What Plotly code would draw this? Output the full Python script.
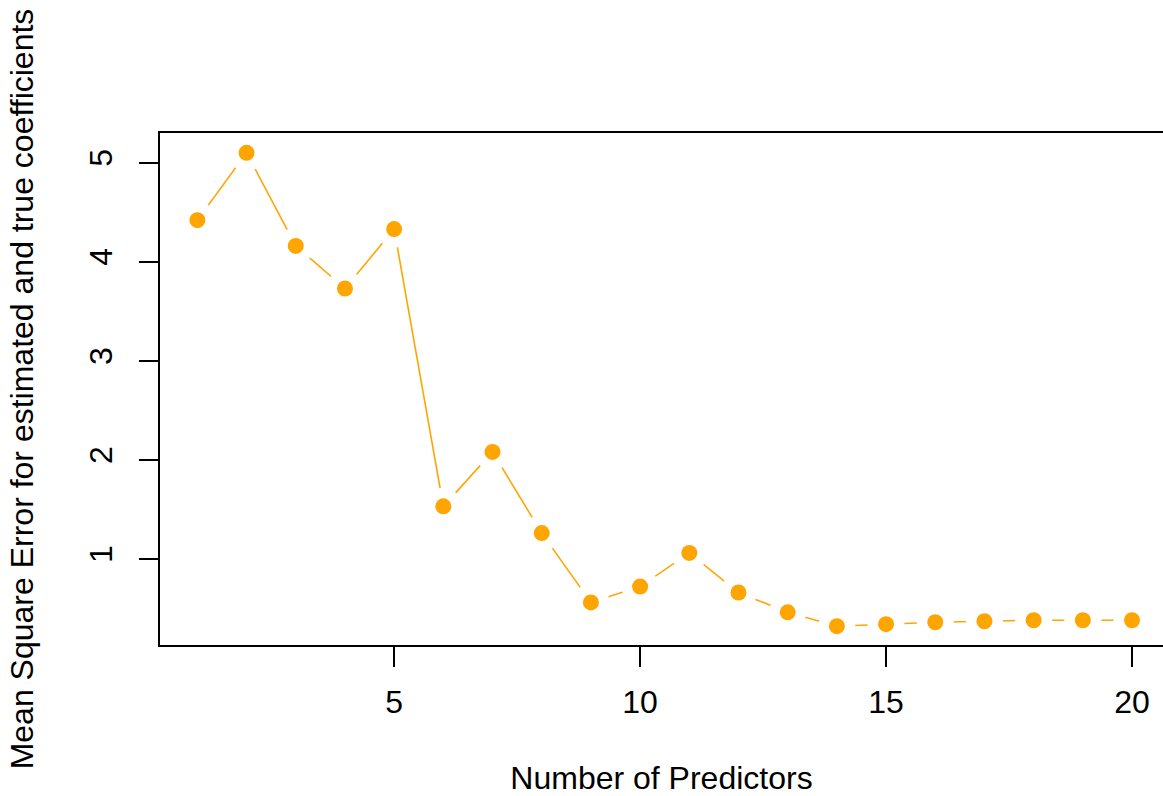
import plotly.graph_objects as go

n_predictors = list(range(1, 21))
mse = [4.42, 5.10, 4.16, 3.73, 4.33, 1.53, 2.08, 1.26, 0.56, 0.72,
       1.06, 0.66, 0.46, 0.32, 0.34, 0.36, 0.37, 0.38, 0.38, 0.38]
x_ticks = [5, 10, 15, 20]
y_ticks = [1, 2, 3, 4, 5]

orange = "#FFA500"
font = "Liberation Sans, Arial, Helvetica, sans-serif"

fig = go.Figure()
fig.add_trace(go.Scatter(x=n_predictors, y=mse, mode="lines",
                         line=dict(color=orange, width=1.6), hoverinfo="skip"))
fig.add_trace(go.Scatter(x=n_predictors, y=mse, mode="markers",
                         marker=dict(color="white", size=37, line=dict(width=0)),
                         hoverinfo="skip"))
fig.add_trace(go.Scatter(x=n_predictors, y=mse, mode="markers",
                         marker=dict(color=orange, size=16, line=dict(width=0))))

fig.update_layout(
    width=1163, height=796,
    margin=dict(l=160, r=0, t=133, b=151),
    plot_bgcolor="white", paper_bgcolor="white",
    showlegend=False,
    font=dict(family=font, color="black", size=32),
    xaxis=dict(range=[0.24, 20.63], tickvals=x_ticks, ticks="outside", ticklen=20,
               tickwidth=1.5, tickcolor="black", showline=True, linecolor="black",
               linewidth=1.5, mirror=True, showgrid=False, zeroline=False,
               automargin=False, ticklabelstandoff=8,
               title=dict(text="Number of Predictors", standoff=50,
                          font=dict(size=32))),
    yaxis=dict(range=[0.13, 5.30], tickvals=y_ticks, ticks="outside", ticklen=19,
               tickwidth=1.5, tickcolor="black", showline=True, linecolor="black",
               linewidth=1.5, mirror=False, showgrid=False, zeroline=False,
               automargin=False, tickangle=-90, ticklabelstandoff=14,
               title=dict(text="Mean Square Error for estimated and true coefficients",
                          standoff=40, font=dict(size=32))),
)

fig.write_html("out.html", config={"displayModeBar": False},
               post_script="document.body.style.margin='0';document.body.style.overflow='hidden';")
